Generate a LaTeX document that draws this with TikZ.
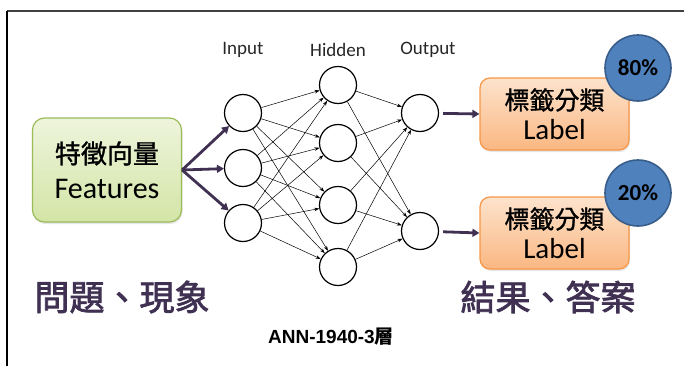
\documentclass[tikz,border=0pt]{standalone}
\usepackage{fontspec}
\setmainfont{Carlito}
\newfontfamily\cjk{Noto Sans CJK TC}
\newfontfamily\cjkmid[FakeBold=1.2]{Noto Sans CJK TC}
\newfontfamily\cjkheavy[FakeBold=2.2]{Noto Sans CJK TC}
\newfontfamily\arialfont{Liberation Sans}
\usetikzlibrary{arrows.meta,shadows}

\definecolor{purp}{HTML}{403152}
\definecolor{greenedge}{HTML}{9BBB59}
\definecolor{greentop}{HTML}{EEF4DC}
\definecolor{greenbot}{HTML}{D3E5A6}
\definecolor{orangeedge}{HTML}{F79646}
\definecolor{orangetop}{HTML}{FDE3CC}
\definecolor{orangebot}{HTML}{FAB782}
\definecolor{badgefill}{HTML}{4F81BD}
\definecolor{badgeedge}{HTML}{385D8A}

\tikzset{
  neuron/.style={circle, draw=black, line width=1.2pt, fill=white,
    minimum size=37pt, inner sep=0pt},
  syn/.style={line width=0.5pt, -{Stealth[length=5pt,width=3.5pt]}},
  fat/.style={draw=purp, line width=2.8pt, -{Triangle[length=7pt,width=8pt]}},
  greenbox/.style={rounded corners=12pt, draw=greenedge, line width=1.2pt,
    top color=greentop, bottom color=greenbot, align=center,
    minimum width=149pt, minimum height=104pt,
    drop shadow={opacity=0.2, shadow xshift=1pt, shadow yshift=-2pt},
    font=\fontsize{30}{35}\selectfont},
  labelbox/.style={rounded corners=10pt, draw=orangeedge, line width=1.2pt,
    top color=orangetop, bottom color=orangebot, align=center,
    minimum width=149pt, minimum height=72pt,
    drop shadow={opacity=0.2, shadow xshift=1pt, shadow yshift=-2pt},
    font=\fontsize{29}{30}\selectfont},
  badge/.style={circle, draw=badgeedge, line width=1.6pt, fill=badgefill,
    minimum size=66pt, inner sep=0pt, font=\fontsize{23}{23}\selectfont\bfseries},
  layername/.style={font=\fontsize{19}{19}\selectfont, text=black!85},
  topic/.style={font=\cjkheavy\fontsize{35}{35}\selectfont, text=purp}
}

\begin{document}
\begin{tikzpicture}[x=1pt,y=-1pt]
\useasboundingbox (0,0) rectangle (685,367);

% page frame (top and left edges)
\draw[line width=1.5pt, black!75] (684,11) -- (7,11);
\draw[line width=1.5pt, black] (7,11) -- (7,366);

% feature box
\node[greenbox] (feat) at (107,170) {{\cjkmid\fontsize{26}{35}\selectfont 特徵向量}\\Features};

% network layers
\node[neuron] (i1) at (243,113) {};
\node[neuron] (i2) at (243,168) {};
\node[neuron] (i3) at (243,223) {};
\node[neuron] (h1) at (338,85) {};
\node[neuron] (h2) at (338,143) {};
\node[neuron] (h3) at (338,205) {};
\node[neuron] (h4) at (338,267) {};
\node[neuron] (o1) at (420,113) {};
\node[neuron] (o2) at (420,231) {};

\node[layername] (tin) at (243,50) {Input};
\node[layername] (thid) at (338,50) {Hidden};
\node[layername] (tout) at (428,50) {Output};

\foreach \a in {i1,i2,i3}
  \foreach \b in {h1,h2,h3,h4}
    \draw[syn] (\a) -- (\b);
\foreach \a in {h1,h2,h3,h4}
  \foreach \b in {o1,o2}
    \draw[syn] (\a) -- (\b);

% inputs fed from the feature vector
\draw[fat] (feat.east) -- (i1);
\draw[fat] (feat.east) -- (i2);
\draw[fat] (feat.east) -- (i3);

% output labels
\node[labelbox] (lab1) at (554.5,114) {{\cjkmid\fontsize{25}{30}\selectfont 標籤分類}\\Label};
\node[labelbox] (lab2) at (554.5,233) {{\cjkmid\fontsize{25}{30}\selectfont 標籤分類}\\Label};

\draw[fat, shorten <=4pt] (o1) -- (lab1.west);
\draw[fat, shorten <=4pt] (o2) -- (lab2.west);

\node[badge] (p1) at (638,68) {80\%};
\node[badge] (p2) at (638,193) {20\%};

% captions
\node[topic] (prob) at (122,297) {問題、現象};
\node[topic] (ans) at (548,297) {結果、答案};
\node (cap) at (331,337) {\arialfont\bfseries\fontsize{19}{19}\selectfont ANN-1940-3{\cjk\bfseries 層}};
\end{tikzpicture}
\end{document}
